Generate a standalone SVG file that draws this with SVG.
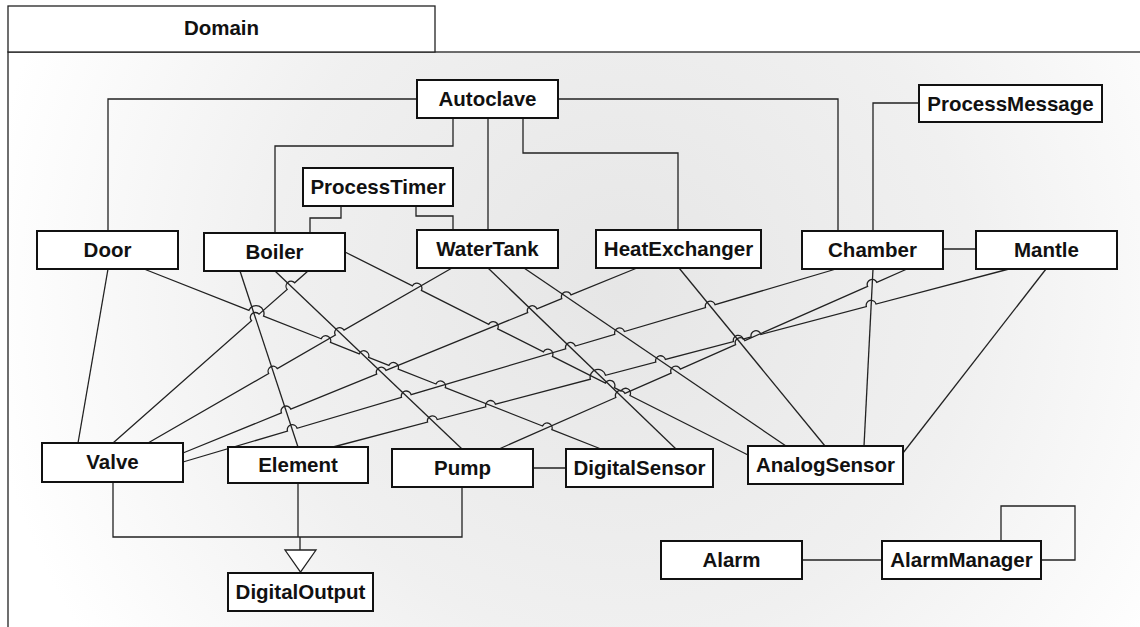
<svg xmlns="http://www.w3.org/2000/svg" width="1140" height="627" viewBox="0 0 1140 627">
  <defs>
    <radialGradient id="pkgFill" gradientUnits="userSpaceOnUse" cx="620" cy="290" r="640">
      <stop offset="0" stop-color="#e6e6e6"/>
      <stop offset="0.55" stop-color="#f0f0f0"/>
      <stop offset="1" stop-color="#ffffff"/>
    </radialGradient>
    <style>
      .frame { fill: url(#pkgFill); stroke: #222; stroke-width: 1.3; }
      .tab { fill: #fff; stroke: #222; stroke-width: 1.3; }
      .box { fill: #fff; stroke: #111; stroke-width: 2; }
      .lbl { font-family: "Liberation Sans", Arial, sans-serif; font-weight: bold; font-size: 20.5px; text-anchor: middle; fill: #111; }
      .wire { fill: none; stroke: #222; stroke-width: 1.3; }
      .head { fill: #fff; stroke: #222; stroke-width: 1.3; }
    </style>
  </defs>

  <rect width="1140" height="627" fill="#fff"/>

  <!-- package frame -->
  <g id="domain">
    <rect class="frame" x="8" y="52" width="1200" height="700"/>
    <rect class="tab" x="8" y="6" width="427" height="46"/>
    <text class="lbl" x="221.5" y="35">Domain</text>
  </g>

  <!-- associations and generalization -->
  <g id="connectors">
    <!-- orthogonal links -->
    <path class="wire" d="M417,99 H108 V231"/>
    <path class="wire" d="M558,99 H838 V231"/>
    <path class="wire" d="M453,118 V146 H275 V233"/>
    <path class="wire" d="M488,118 V230"/>
    <path class="wire" d="M523,118 V153 H678 V230"/>
    <path class="wire" d="M341,206 V218 H310 V233"/>
    <path class="wire" d="M416,206 V216 H453 V230"/>
    <path class="wire" d="M919,103 H873 V231"/>
    <path class="wire" d="M943,249 H976"/>
    <path class="wire" d="M533,468 H566"/>
    <path class="wire" d="M802,560 H882"/>
    <path class="wire" d="M1001,541 V506 H1075 V560 H1041"/>

    <!-- diagonal links (with line jumps) -->
    <path class="wire" d="M108,269 L78,443"/>
    <path class="wire" d="M144,269 L248.95,310.34 A7.85,7.85 0 0 1 263.55,316.09 L321.15,338.77 A5,5 0 0 1 330.45,342.43 L359.25,353.79 A5,5 0 0 1 368.55,357.45 L388.85,365.45 A5,5 0 0 1 398.15,369.11 L435.95,384 A5,5 0 0 1 445.25,387.66 L542.55,425.99 A5,5 0 0 1 551.85,429.65 L601,449"/>
    <path class="wire" d="M240,271 L298,447"/>
    <path class="wire" d="M275,271 L462,449"/>
    <path class="wire" d="M308,271 L294.65,282.79 A5,5 0 0 0 287.15,289.39 L259.05,314.18 A5,5 0 0 0 251.55,320.8 L113,443"/>
    <path class="wire" d="M345,252 L412.43,285.95 A5,5 0 0 1 421.37,290.45 L488.73,324.37 A5,5 0 0 1 497.67,328.87 L543.43,351.93 A5,5 0 0 1 552.37,356.43 L605.43,383.15 A5,5 0 0 1 614.37,387.65 L621.03,391.01 A5,5 0 0 1 629.97,395.51 L748,455"/>
    <path class="wire" d="M452,268 L344.03,330.11 A5,5 0 0 0 335.37,335.13 L277.33,368.54 A5,5 0 0 0 268.67,373.52 L148,443"/>
    <path class="wire" d="M488,268 L676,449"/>
    <path class="wire" d="M524,268 L786,446"/>
    <path class="wire" d="M637,268 L571.03,294.91 A5,5 0 0 0 561.77,298.69 L536.93,308.81 A5,5 0 0 0 527.67,312.59 L385.93,370.33 A5,5 0 0 0 376.67,374.11 L290.73,409.12 A5,5 0 0 0 281.47,412.9 L183,453"/>
    <path class="wire" d="M679,268 L825,446"/>
    <path class="wire" d="M836,269 L715.1,304.72 A5,5 0 0 0 705.5,307.56 L624.4,331.53 A5,5 0 0 0 614.8,334.37 L575.3,346.04 A5,5 0 0 0 565.7,348.88 L411.1,394.58 A5,5 0 0 0 401.5,397.42 L297.1,428.28 A5,5 0 0 0 287.5,431.12 L183,462"/>
    <path class="wire" d="M873,269 L864,446"/>
    <path class="wire" d="M907,269 L876.78,282.37 A5,5 0 0 0 867.62,286.41 L744.78,340.6 A5,5 0 0 0 735.62,344.64 L680.28,369.06 A5,5 0 0 0 671.12,373.1 L624.98,393.46 A5,5 0 0 0 615.82,397.5 L499,449"/>
    <path class="wire" d="M1009,269 L876.04,304.04 A5,5 0 0 0 866.36,306.58 L760.84,334.38 A5,5 0 0 0 751.16,336.92 L743.14,339.04 A5,5 0 0 0 733.46,341.58 L665.44,359.49 A5,5 0 0 0 655.76,362.03 L605.54,375.27 A7.84,7.84 0 0 0 590.36,379.25 L495.44,404.25 A5,5 0 0 0 485.76,406.79 L437.24,419.58 A5,5 0 0 0 427.56,422.12 L333,447"/>
    <path class="wire" d="M1046,269 L903,453"/>

    <!-- generalization to DigitalOutput -->
    <path class="wire" d="M113,482 V537 H462 V487"/>
    <path class="wire" d="M298,483 V537"/>
    <path class="wire" d="M300,537 V550"/>
    <polygon class="head" points="285,550 316,550 300.5,572"/>
  </g>

  <g id="autoclave"><rect class="box" x="417" y="80" width="141" height="38"/><text class="lbl" x="487.5" y="106">Autoclave</text></g>
  <g id="processTimer"><rect class="box" x="303" y="168" width="150" height="38"/><text class="lbl" x="378" y="194">ProcessTimer</text></g>
  <g id="processMessage"><rect class="box" x="919" y="85" width="183" height="37"/><text class="lbl" x="1010.5" y="110.5">ProcessMessage</text></g>
  <g id="door"><rect class="box" x="37" y="231" width="141" height="38"/><text class="lbl" x="107.5" y="257">Door</text></g>
  <g id="boiler"><rect class="box" x="204" y="233" width="141" height="38"/><text class="lbl" x="274.5" y="259">Boiler</text></g>
  <g id="waterTank"><rect class="box" x="417" y="230" width="141" height="38"/><text class="lbl" x="487.5" y="256">WaterTank</text></g>
  <g id="heatExchanger"><rect class="box" x="596" y="230" width="165" height="38"/><text class="lbl" x="678.5" y="256">HeatExchanger</text></g>
  <g id="chamber"><rect class="box" x="802" y="231" width="141" height="38"/><text class="lbl" x="872.5" y="257">Chamber</text></g>
  <g id="mantle"><rect class="box" x="976" y="231" width="141" height="38"/><text class="lbl" x="1046.5" y="257">Mantle</text></g>
  <g id="valve"><rect class="box" x="42" y="443" width="141" height="39"/><text class="lbl" x="112.5" y="469">Valve</text></g>
  <g id="element"><rect class="box" x="228" y="447" width="140" height="36"/><text class="lbl" x="298" y="472">Element</text></g>
  <g id="pump"><rect class="box" x="392" y="449" width="141" height="38"/><text class="lbl" x="462.5" y="475">Pump</text></g>
  <g id="digitalSensor"><rect class="box" x="566" y="449" width="147" height="38"/><text class="lbl" x="639.5" y="475">DigitalSensor</text></g>
  <g id="analogSensor"><rect class="box" x="748" y="446" width="155" height="38"/><text class="lbl" x="825.5" y="472">AnalogSensor</text></g>
  <g id="digitalOutput"><rect class="box" x="228" y="573" width="145" height="38"/><text class="lbl" x="300.5" y="599">DigitalOutput</text></g>
  <g id="alarm"><rect class="box" x="661" y="541" width="141" height="38"/><text class="lbl" x="731.5" y="567">Alarm</text></g>
  <g id="alarmManager"><rect class="box" x="882" y="541" width="159" height="38"/><text class="lbl" x="961.5" y="567">AlarmManager</text></g>
</svg>
